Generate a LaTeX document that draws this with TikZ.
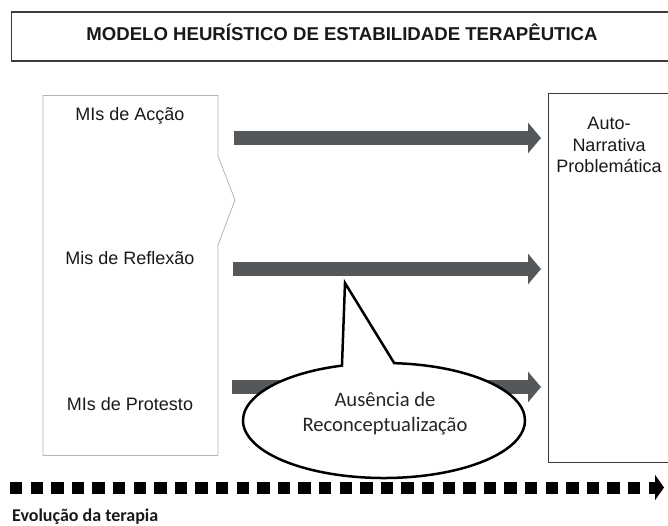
\documentclass[tikz,border=0pt]{standalone}
\usepackage{fontspec}
\setmainfont{Liberation Sans}
\newfontfamily\calib{Carlito}
\usetikzlibrary{arrows.meta,shapes.callouts}
\definecolor{arrowgray}{HTML}{54585A}
\definecolor{boxdark}{HTML}{3C3C3C}
\definecolor{boxlight}{HTML}{B4B4B4}
\begin{document}
\begin{tikzpicture}[x=1pt,y=-1pt,
  bigarrow/.style={line width=14pt, draw=arrowgray, -{Triangle[length=13pt,width=30pt]}},
  lbl/.style={font=\fontsize{18}{21.5}\selectfont, inner sep=0pt, anchor=base, text=black!90},
  evoarrow/.style={line width=12pt, draw=black, dash pattern=on 12.3pt off 8.3pt, -{Triangle[length=9pt,width=25pt]}},
]
\useasboundingbox (0,0) rectangle (668,526);
\clip (0,0) rectangle (668,526);
% title
\node[draw=boxdark, line width=1.6pt, minimum width=670pt, minimum height=49pt, anchor=north west, inner sep=0pt] (titlebox) at (10.7,11) {};
\node[font=\bfseries\fontsize{18.6}{21}\selectfont, anchor=base, inner sep=0pt, text=black!90] (title) at (342,40.5) {MODELO HEURÍSTICO DE ESTABILIDADE TERAPÊUTICA};
% left box (notched)
\draw[draw=boxlight, line width=0.8pt] (43,95.5) -- (218,95.5) -- (218,156) -- (235,200) -- (218,245) -- (218,455.5) -- (43,455.5) -- cycle;
\node[lbl] (acc) at (130,121) {MIs de Acção};
\node[lbl] (ref) at (130,265) {Mis de Reflexão};
\node[lbl] (pro) at (130,410) {MIs de Protesto};
% right box
\node[draw=boxdark, line width=1.3pt, minimum width=140pt, minimum height=369pt, anchor=north west, inner sep=0pt] (rbox) at (548,93) {};
\node[lbl, align=center] (rtxt) at (609,173) {Auto-\\Narrativa\\Problemática};
% arrows
\coordinate (a1s) at (234,138);  \coordinate (a1e) at (541,138);
\coordinate (a2s) at (233,269);  \coordinate (a2e) at (541,269);
\coordinate (a3s) at (232,387);  \coordinate (a3e) at (541,387);
\draw[bigarrow] (a1s) -- (a1e);
\draw[bigarrow] (a2s) -- (a2e);
\draw[bigarrow] (a3s) -- (a3e);
% callout
\coordinate (tip) at (345,283);
\node[ellipse callout, draw=black, line width=2.5pt, fill=white, minimum width=282pt, minimum height=115pt, inner sep=0pt,
      callout absolute pointer={(tip)}, callout pointer arc=21.5] (call) at (384,420.5) {};
\node[font=\calib\fontsize{20.6}{25}\selectfont, align=center, anchor=base, inner sep=0pt, text=black!85] (calltxt) at (385,431) {Ausência de\\Reconceptualização};
% evolution arrow
\coordinate (ev0) at (10,487.5);
\coordinate (ev1) at (664,487.5);
\draw[evoarrow] (ev0) -- (ev1);
\node[font=\calib\bfseries\fontsize{18}{20}\selectfont, anchor=base west, inner sep=0pt, text=black!90] (evo) at (12,521.5) {Evolução da terapia};
\end{tikzpicture}
\end{document}
